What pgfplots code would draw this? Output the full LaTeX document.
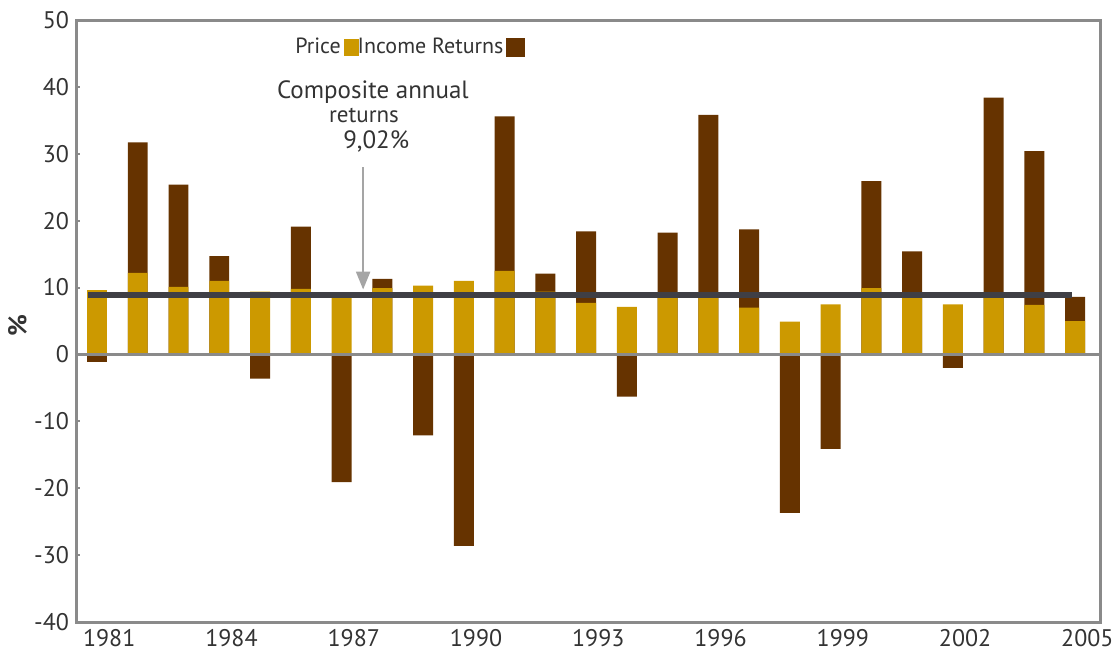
\documentclass[border=0pt]{standalone}
\usepackage{pgfplots}
\pgfplotsset{compat=1.18}
\usepackage{pgfplotstable}
\usetikzlibrary{arrows.meta}
\usepackage{fontspec}
\setmainfont{PT Sans}
\definecolor{gold}{HTML}{CC9900}
\definecolor{dbrown}{HTML}{663300}
\definecolor{framegray}{HTML}{8A8A8A}
\definecolor{linegray}{HTML}{3F3F45}
\definecolor{txt}{HTML}{333333}
\definecolor{arrowgray}{HTML}{A5A5A5}

\pgfplotstableread{
idx gold brown
0 9.6 -1.1
1 12.2 31.7
2 10.1 25.4
3 11.0 14.7
4 9.4 -3.6
5 9.8 19.1
6 8.8 -19.1
7 9.9 11.3
8 10.3 -12.1
9 11.0 -28.6
10 12.5 35.6
11 9.4 12.1
12 7.7 18.4
13 7.1 -6.3
14 8.8 18.2
15 8.8 35.8
16 7.0 18.7
17 4.9 -23.7
18 7.5 -14.1
19 9.9 25.9
20 8.8 15.4
21 7.5 -2.0
22 8.8 38.4
23 7.4 30.4
24 5.0 8.6
}\data

\begin{document}
\begin{tikzpicture}[x=1pt,y=1pt]
\useasboundingbox (0,0) rectangle (556,327.5);
\begin{axis}[
  at={(38pt,16.5pt)}, anchor=south west,
  width=512pt, height=301pt, scale only axis,
  xmin=-0.515, xmax=24.61, ymin=-40, ymax=50,
  axis line style={framegray, line width=1.5pt},
  ytick={-40,-30,...,50},
  yticklabels={-40,-30,-20,-10,0,10,20,30,40,50},
  xtick={0.3,3.3,...,24.3},
  xticklabels={1981,1984,1987,1990,1993,1996,1999,2002,2005},
  xtick style={draw=none},
  ytick style={framegray, line width=1pt},
  major tick length=2pt,
  ytick pos=left, xtick pos=bottom,
  tick label style={font=\fontsize{12}{14}\selectfont, text=txt},
  ylabel={\%},
  ylabel style={at={(axis description cs:-0.057,0.493)}, anchor=center, font=\fontsize{13}{15}\selectfont\bfseries, text=txt},
  legend style={at={(axis description cs:0.325,0.955)}, anchor=center, draw=none, fill=none,
    font=\fontsize{11}{13}\selectfont, text=txt, legend columns=2,
    /tikz/every even column/.append style={column sep=-2pt},
    nodes={inner sep=1.5pt},
    inner sep=0pt},
  legend plot pos=right,
]
\addlegendimage{legend image code/.code={\fill[gold] (0pt,-4pt) rectangle (7pt,4pt);}}
\addlegendentry{Price}
\addlegendimage{legend image code/.code={\fill[dbrown] (-1pt,-4.5pt) rectangle (8pt,4.5pt);}}
\addlegendentry{Income Returns}

\addplot[ybar, bar width=0.49, bar shift=0pt, fill=dbrown, draw=none, forget plot] table[x=idx,y=brown]{\data};
\addplot[ybar, bar width=0.49, bar shift=0pt, fill=gold, draw=none, forget plot] table[x=idx,y=gold]{\data};
\addplot[framegray, line width=1.5pt, forget plot] coordinates {(-0.515,0) (24.61,0)};
\addplot[linegray, line width=3pt, forget plot] coordinates {(-0.22,8.9) (23.93,8.9)};

\draw[-{Triangle[length=9pt,width=7pt]}, arrowgray, line width=1.2pt] (axis cs:6.53,28) -- (axis cs:6.53,9.7);
\node[font=\fontsize{12.5}{14}\selectfont, text=txt] at (axis cs:6.77,39.2) {Composite annual};
\node[font=\fontsize{11.5}{13}\selectfont, text=txt] at (axis cs:6.55,35.8) {returns};
\node[font=\fontsize{12.5}{14}\selectfont, text=txt] at (axis cs:6.85,31.8) {9,02\%};
\end{axis}
\end{tikzpicture}
\end{document}
